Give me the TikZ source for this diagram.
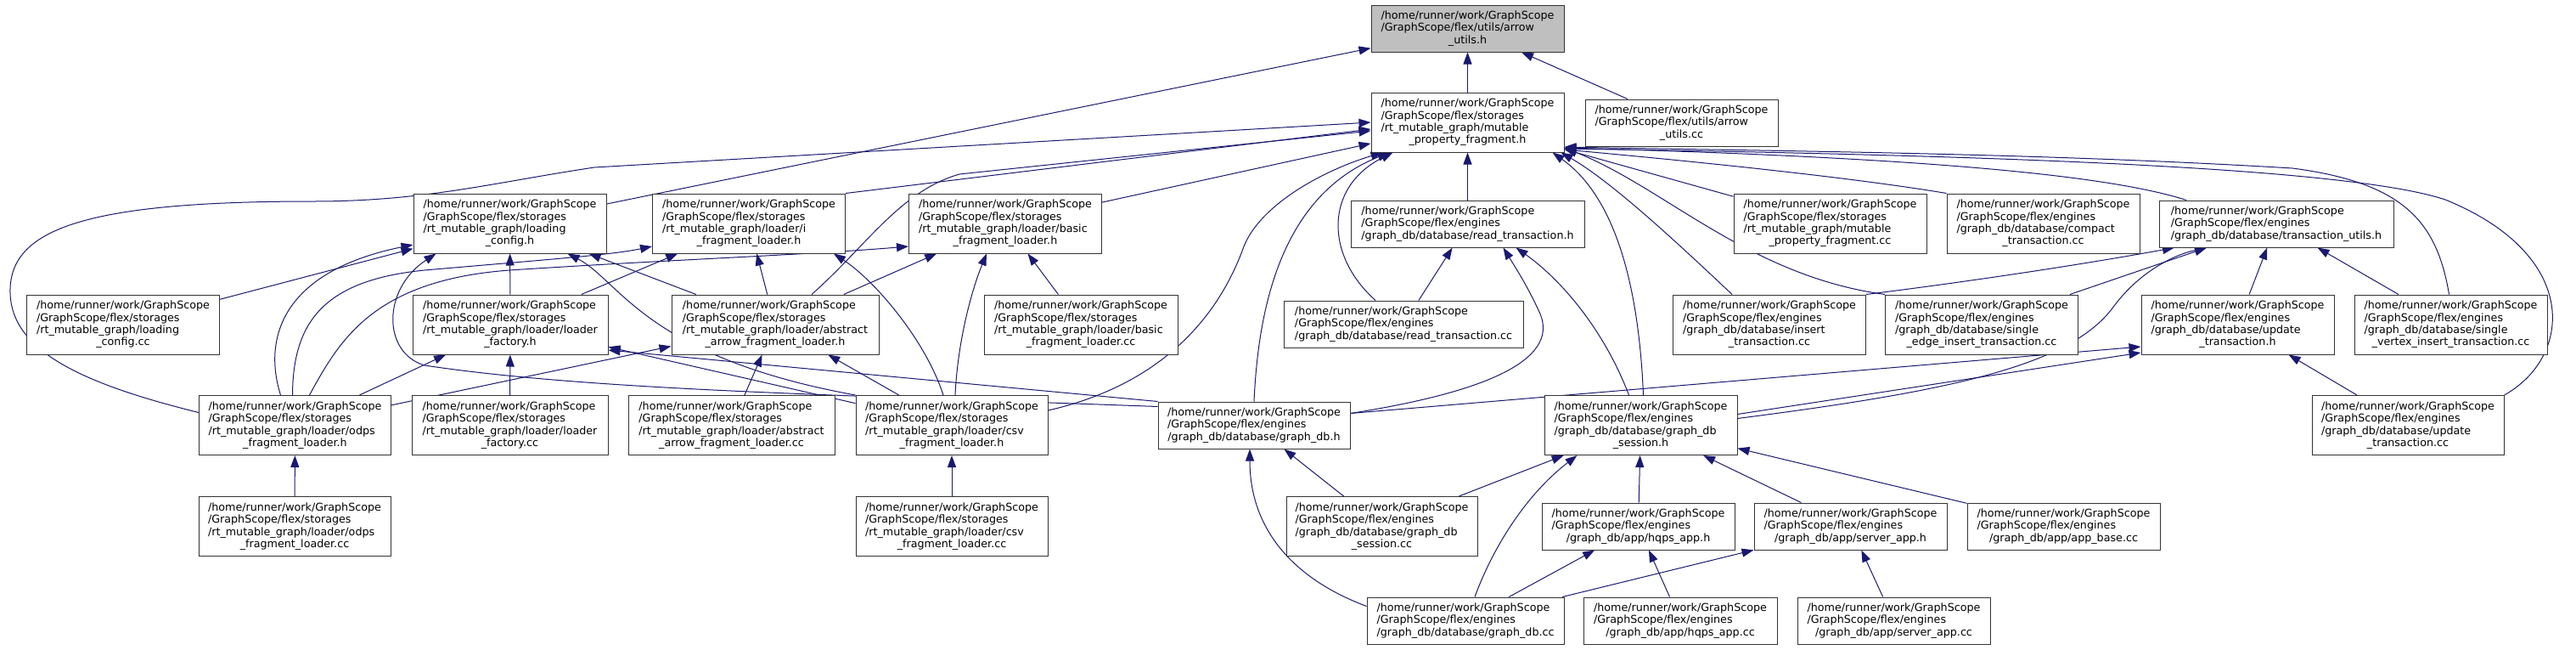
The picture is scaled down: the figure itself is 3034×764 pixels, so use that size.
\documentclass[tikz,border=0pt]{standalone}
\usepackage{fontspec}
\setmainfont{DejaVu Sans}
\usetikzlibrary{arrows.meta,backgrounds}
\definecolor{inclblue}{RGB}{25,25,112}
\definecolor{rootgray}{RGB}{191,191,191}
\newcommand{\lastline}[1]{\hspace*{\fill}#1\hspace*{\fill}}

\tikzset{
  file/.style={draw=black!80,line width=1pt,fill=white,inner sep=0pt,align=left,
    minimum width=227pt,minimum height=70pt},
  threeline/.style={minimum height=55pt},
  incl/.style={draw=inclblue,line width=1pt,-{Triangle[length=14pt,width=10pt]}},
}

\begin{document}
\begin{tikzpicture}[x=1pt,y=-1pt,font=\fontsize{12.7}{14.4}\selectfont]
  \useasboundingbox (0,0) rectangle (3034,764);

  % row 0 and 1
  \node[file,threeline,fill=rootgray] (auh) at (1728.5,33.5)
    {/home/runner/work/GraphScope\\/GraphScope/flex/utils/arrow\\\lastline{\_utils.h}};
  \node[file] (mpfh) at (1728.5,144)
    {/home/runner/work/GraphScope\\/GraphScope/flex/storages\\/rt\_mutable\_graph/mutable\\\lastline{\_property\_fragment.h}};
  \node[file,threeline] (aucc) at (1980.5,144.5)
    {/home/runner/work/GraphScope\\/GraphScope/flex/utils/arrow\\\lastline{\_utils.cc}};

  % row 2
  \node[file] (lch) at (600.5,263)
    {/home/runner/work/GraphScope\\/GraphScope/flex/storages\\/rt\_mutable\_graph/loading\\\lastline{\_config.h}};
  \node[file] (iflh) at (882,263)
    {/home/runner/work/GraphScope\\/GraphScope/flex/storages\\/rt\_mutable\_graph/loader/i\\\lastline{\_fragment\_loader.h}};
  \node[file] (bflh) at (1184,263)
    {/home/runner/work/GraphScope\\/GraphScope/flex/storages\\/rt\_mutable\_graph/loader/basic\\\lastline{\_fragment\_loader.h}};
  \node[file,threeline,minimum width=275pt] (rth) at (1728.5,263.5)
    {/home/runner/work/GraphScope\\/GraphScope/flex/engines\\\lastline{/graph\_db/database/read\_transaction.h}};
  \node[file] (mpfcc) at (2155.5,263)
    {/home/runner/work/GraphScope\\/GraphScope/flex/storages\\/rt\_mutable\_graph/mutable\\\lastline{\_property\_fragment.cc}};
  \node[file] (ctcc) at (2406.5,263)
    {/home/runner/work/GraphScope\\/GraphScope/flex/engines\\/graph\_db/database/compact\\\lastline{\_transaction.cc}};
  \node[file,threeline,minimum width=276pt] (tuh) at (2681,263.5)
    {/home/runner/work/GraphScope\\/GraphScope/flex/engines\\\lastline{/graph\_db/database/transaction\_utils.h}};

  % row 3
  \node[file] (lccc) at (145,382)
    {/home/runner/work/GraphScope\\/GraphScope/flex/storages\\/rt\_mutable\_graph/loading\\\lastline{\_config.cc}};
  \node[file,minimum width=230pt] (lfh) at (601,382)
    {/home/runner/work/GraphScope\\/GraphScope/flex/storages\\/rt\_mutable\_graph/loader/loader\\\lastline{\_factory.h}};
  \node[file,minimum width=244pt] (aaflh) at (913,382)
    {/home/runner/work/GraphScope\\/GraphScope/flex/storages\\/rt\_mutable\_graph/loader/abstract\\\lastline{\_arrow\_fragment\_loader.h}};
  \node[file,minimum width=228pt] (bflcc) at (1273,382)
    {/home/runner/work/GraphScope\\/GraphScope/flex/storages\\/rt\_mutable\_graph/loader/basic\\\lastline{\_fragment\_loader.cc}};
  \node[file,threeline,minimum width=282pt] (rtcc) at (1653,381.5)
    {/home/runner/work/GraphScope\\/GraphScope/flex/engines\\\lastline{/graph\_db/database/read\_transaction.cc}};
  \node[file] (itcc) at (2084,382)
    {/home/runner/work/GraphScope\\/GraphScope/flex/engines\\/graph\_db/database/insert\\\lastline{\_transaction.cc}};
  \node[file] (seitcc) at (2334,382)
    {/home/runner/work/GraphScope\\/GraphScope/flex/engines\\/graph\_db/database/single\\\lastline{\_edge\_insert\_transaction.cc}};
  \node[file] (uth) at (2635.5,382)
    {/home/runner/work/GraphScope\\/GraphScope/flex/engines\\/graph\_db/database/update\\\lastline{\_transaction.h}};
  \node[file] (svitcc) at (2886.5,382)
    {/home/runner/work/GraphScope\\/GraphScope/flex/engines\\/graph\_db/database/single\\\lastline{\_vertex\_insert\_transaction.cc}};

  % row 4
  \node[file,minimum width=226pt] (odpsh) at (347.5,500.5)
    {/home/runner/work/GraphScope\\/GraphScope/flex/storages\\/rt\_mutable\_graph/loader/odps\\\lastline{\_fragment\_loader.h}};
  \node[file,minimum width=231pt] (lfcc) at (600.5,500.5)
    {/home/runner/work/GraphScope\\/GraphScope/flex/storages\\/rt\_mutable\_graph/loader/loader\\\lastline{\_factory.cc}};
  \node[file,minimum width=243pt] (aaflcc) at (861.5,500.5)
    {/home/runner/work/GraphScope\\/GraphScope/flex/storages\\/rt\_mutable\_graph/loader/abstract\\\lastline{\_arrow\_fragment\_loader.cc}};
  \node[file,minimum width=226pt] (csvh) at (1121,500.5)
    {/home/runner/work/GraphScope\\/GraphScope/flex/storages\\/rt\_mutable\_graph/loader/csv\\\lastline{\_fragment\_loader.h}};
  \node[file,threeline,minimum width=226pt] (gdbh) at (1477,500.5)
    {/home/runner/work/GraphScope\\/GraphScope/flex/engines\\\lastline{/graph\_db/database/graph\_db.h}};
  \node[file] (gdbsh) at (1932.5,500.5)
    {/home/runner/work/GraphScope\\/GraphScope/flex/engines\\/graph\_db/database/graph\_db\\\lastline{\_session.h}};
  \node[file,minimum width=226pt] (utcc) at (2836,500.5)
    {/home/runner/work/GraphScope\\/GraphScope/flex/engines\\/graph\_db/database/update\\\lastline{\_transaction.cc}};

  % row 5
  \node[file,minimum width=226pt] (odpscc) at (347,619.5)
    {/home/runner/work/GraphScope\\/GraphScope/flex/storages\\/rt\_mutable\_graph/loader/odps\\\lastline{\_fragment\_loader.cc}};
  \node[file,minimum width=226pt] (csvcc) at (1121,619.5)
    {/home/runner/work/GraphScope\\/GraphScope/flex/storages\\/rt\_mutable\_graph/loader/csv\\\lastline{\_fragment\_loader.cc}};
  \node[file,minimum width=225pt] (gdbscc) at (1627.5,619.5)
    {/home/runner/work/GraphScope\\/GraphScope/flex/engines\\/graph\_db/database/graph\_db\\\lastline{\_session.cc}};
  \node[file,threeline] (hqpsh) at (1929.5,619.5)
    {/home/runner/work/GraphScope\\/GraphScope/flex/engines\\\lastline{/graph\_db/app/hqps\_app.h}};
  \node[file,threeline] (sah) at (2179.5,619.5)
    {/home/runner/work/GraphScope\\/GraphScope/flex/engines\\\lastline{/graph\_db/app/server\_app.h}};
  \node[file,threeline] (abcc) at (2430.5,619.5)
    {/home/runner/work/GraphScope\\/GraphScope/flex/engines\\\lastline{/graph\_db/app/app\_base.cc}};

  % row 6
  \node[file,threeline,minimum width=232pt] (gdbcc) at (1726,730.5)
    {/home/runner/work/GraphScope\\/GraphScope/flex/engines\\\lastline{/graph\_db/database/graph\_db.cc}};
  \node[file,threeline,minimum width=228pt] (hqpscc) at (1979,730.5)
    {/home/runner/work/GraphScope\\/GraphScope/flex/engines\\\lastline{/graph\_db/app/hqps\_app.cc}};
  \node[file,threeline] (sacc) at (2230.5,730.5)
    {/home/runner/work/GraphScope\\/GraphScope/flex/engines\\\lastline{/graph\_db/app/server\_app.cc}};

  \begin{scope}[on background layer]
    % straight includes
    \foreach \a/\b in {mpfh/auh,aucc/auh,lch/auh,lccc/lch,bflh/mpfh,rth/mpfh,
        mpfcc/mpfh,rtcc/rth,gdbscc/gdbh,gdbscc/gdbsh,hqpsh/gdbsh,sah/gdbsh,abcc/gdbsh,
        gdbcc/hqpsh,hqpscc/hqpsh,gdbcc/sah,sacc/sah,odpscc/odpsh,csvcc/csvh,lfcc/lfh,
        odpsh/lfh,csvh/lfh,lfh/lch,aaflh/lch,lfh/iflh,aaflh/iflh,aaflh/bflh,bflcc/bflh,
        aaflcc/aaflh,csvh/aaflh,odpsh/aaflh,seitcc/tuh,uth/tuh,svitcc/tuh,utcc/uth}
      \draw[incl] (\a) -- (\b);
    \draw[incl] (iflh.north east) -- ([yshift=-8pt]mpfh.west);

    % loaders
    \draw[incl] ([yshift=15pt]odpsh.west) .. controls (90,450) and (10,410) .. (12,340)
      .. controls (14,270) and (100,237) .. (368,237) .. controls (500,237) and (580,215) .. (700,197)
      -- (mpfh.west);
    \draw[incl] ([xshift=43pt]aaflh.north) .. controls (1020,290) and (1060,225) .. (1130,205)
      -- ([yshift=-10pt]mpfh.west);
    \draw[incl] ([yshift=-18pt]csvh.north east) .. controls (1380,450) and (1440,360) .. (1465,290)
      .. controls (1485,240) and (1560,200) .. ([xshift=-100pt]mpfh.south);
    \draw[incl] ([xshift=-17pt]odpsh.north) .. controls (310,400) and (330,320) .. ([yshift=-25pt]lch.west);
    \draw[incl] (csvh.north west) .. controls (760,420) and (730,330) .. ([xshift=68pt]lch.south);
    \draw[incl] ([xshift=-10pt]csvh.north) .. controls (1090,400) and (1030,330) .. ([xshift=100pt]iflh.south);
    \draw[incl] ([xshift=-3pt]odpsh.north) .. controls (345,380) and (380,330) .. (500,318)
      .. controls (650,305) and (720,300) .. ([yshift=-27pt]iflh.west);
    \draw[incl] ([xshift=17pt]odpsh.north) .. controls (400,400) and (440,330) .. (600,318)
      .. controls (800,305) and (950,300) .. ([yshift=-27pt]bflh.west);
    \draw[incl] ([xshift=4pt]csvh.north) .. controls (1128,400) and (1145,340) .. ([xshift=-22pt]bflh.south);

    % graph_db
    \draw[incl] (gdbh.north) .. controls (1482,360) and (1510,230) .. ([xshift=-92pt]mpfh.south);
    \draw[incl] (gdbh.north west) -- ([yshift=-30pt]lfh.east);
    \draw[incl] ([yshift=22pt]gdbh.west) .. controls (1000,465) and (700,460) .. (500,430)
      .. controls (450,415) and (450,340) .. ([xshift=-87pt]lch.south);
    \draw[incl] ([yshift=14pt]gdbh.east) .. controls (1760,460) and (1840,420) .. (1812,365)
      .. controls (1798,335) and (1785,315) .. ([xshift=42pt]rth.south);
    \draw[incl] ([yshift=14pt]gdbh.east) -- ([yshift=-26pt]uth.west);
    \draw[incl] ([yshift=17pt]gdbcc.west) .. controls (1520,680) and (1472,620) .. ([xshift=-5pt]gdbh.south);
    \draw[incl] ([xshift=11pt]gdbcc.north) .. controls (1760,640) and (1800,580) .. ([xshift=-75pt]gdbsh.south);

    % transactions
    \draw[incl] ([xshift=-33pt]rtcc.north) .. controls (1560,300) and (1560,220) .. ([xshift=-88pt]mpfh.south);
    \draw[incl] ([xshift=3pt]gdbsh.north) .. controls (1930,330) and (1900,230) .. ([xshift=100pt]mpfh.south);
    \draw[incl] ([xshift=-14pt]gdbsh.north) .. controls (1890,390) and (1840,330) .. ([xshift=57pt]rth.south);
    \draw[incl] ([yshift=13pt]gdbsh.east) -- ([yshift=-33pt]uth.west);
    \draw[incl] ([yshift=8pt]gdbsh.east) .. controls (2300,460) and (2440,430) .. (2490,360)
      .. controls (2520,320) and (2560,300) .. ([xshift=-82pt]tuh.south);
    \draw[incl] ([xshift=-44pt]itcc.north) .. controls (1980,290) and (1900,215) .. ([xshift=110pt]mpfh.south);
    \draw[incl] (itcc.north east) .. controls (2330,330) and (2460,310) .. ([xshift=-120pt]tuh.south);
    \draw[incl] (seitcc.north west) .. controls (2060,325) and (1960,220) .. ([yshift=-30pt]mpfh.east);
    \draw[incl] (ctcc.north west) .. controls (2200,212) and (2050,195) .. ([yshift=-32pt]mpfh.east);
    \draw[incl] ([xshift=-106pt]tuh.north) .. controls (2480,205) and (2250,185) .. ([yshift=-30pt]mpfh.east);
    \draw[incl] ([xshift=-2pt]svitcc.north) .. controls (2870,260) and (2830,215) .. (2700,198)
      .. controls (2400,180) and (2100,178) .. ([yshift=-29pt]mpfh.east);
    \draw[incl] (utcc.north east) .. controls (3030,420) and (3040,300) .. (2880,235)
      .. controls (2760,195) and (2300,182) .. ([yshift=-31pt]mpfh.east);
  \end{scope}
\end{tikzpicture}
\end{document}
